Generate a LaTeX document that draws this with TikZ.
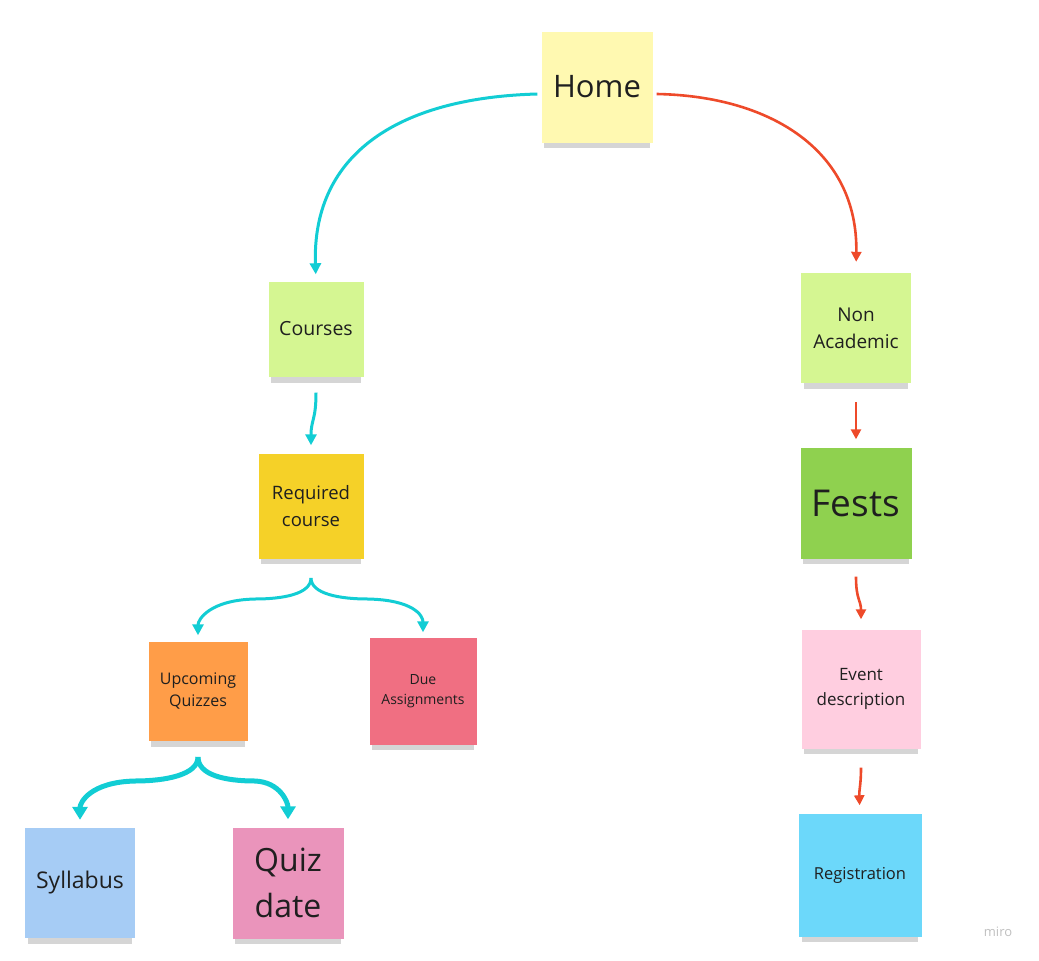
\documentclass[tikz,border=0pt]{standalone}
\usepackage{fontspec}
\setmainfont{Open Sans}
\usetikzlibrary{arrows.meta,shadows}
\definecolor{cyanline}{HTML}{12CDD4}
\definecolor{redline}{HTML}{EE4A2A}
\definecolor{homeyellow}{HTML}{FFF9B1}
\definecolor{lightgreen}{HTML}{D5F692}
\definecolor{darkyellow}{HTML}{F5D128}
\definecolor{orangenote}{HTML}{FF9D48}
\definecolor{rednote}{HTML}{F06F82}
\definecolor{bluenote}{HTML}{A6CCF5}
\definecolor{pinknote}{HTML}{EA94BB}
\definecolor{greennote}{HTML}{8FD14F}
\definecolor{lightpink}{HTML}{FFCEE0}
\definecolor{cyannote}{HTML}{6CD8FA}
\newcommand{\fs}[1]{\fontsize{#1}{1.42\dimexpr#1pt\relax}\selectfont}
\begin{document}
\begin{tikzpicture}[x=1pt,y=-1pt,
  note/.style={minimum width=#1, minimum height=#1, inner sep=0pt, align=center,
    text=black!88, drop shadow={shadow xshift=0pt, shadow yshift=-9pt, opacity=0.33,
      shadow scale=0.95}},
  cyanarrow/.style={draw=cyanline, line width=3pt, -{Triangle[length=11pt,width=11pt]}},
  thickarrow/.style={draw=cyanline, line width=5pt, -{Triangle[length=13pt,width=15pt]}},
  redarrow/.style={draw=redline, line width=2.6pt, -{Triangle[length=10pt,width=10pt]}}]
\useasboundingbox (0,0) rectangle (1039,961);

% sticky notes
\node[note=111pt, fill=homeyellow, font=\fs{31}] (home) at (597,87) {Home};
\node[note=95pt, fill=lightgreen, font=\fs{19.5}] (courses) at (316,329) {Courses};
\node[note=105pt, fill=darkyellow, font=\fs{18.5}] (required) at (311,506) {Required\\course};
\node[note=99pt, fill=orangenote, font=\fs{16}] (upcoming) at (198,691) {Upcoming\\Quizzes};
\node[note=107pt, fill=rednote, font=\fs{14}] (due) at (423,691) {Due\\Assignments};
\node[note=110pt, fill=bluenote, font=\fs{23}] (syllabus) at (80,883) {Syllabus};
\node[note=111pt, fill=pinknote, font=\fs{32}] (quiz) at (288,883) {Quiz\\date};
\node[note=110pt, fill=lightgreen, font=\fs{19}] (nonacad) at (856,328) {Non\\Academic};
\node[note=111pt, fill=greennote, font=\fs{37}] (fests) at (856,503) {Fests};
\node[note=119pt, fill=lightpink, font=\fs{17}] (event) at (861,689) {Event\\description};
\node[note=123pt, fill=cyannote, font=\fs{16.5}] (registration) at (860,875) {Registration};
\node[text=black!25, font=\fs{13}] (miro) at (998,932) {miro};

% left branch
\draw[cyanarrow, shorten >=7pt] ([yshift=-7pt,xshift=-4pt]home.west)
  .. controls (390,98) and (312,160) .. (courses.north);
\draw[cyanarrow, shorten <=16pt, shorten >=8pt] (courses.south)
  .. controls (316,420) and (311,420) .. (required.north);

\coordinate (reqfork) at (311,578);
\coordinate (reqleft) at (255,599);
\coordinate (reqright) at (368,599);
\draw[cyanarrow, shorten >=6pt] (reqfork) .. controls +(0,16) and +(28,0) .. (reqleft)
  .. controls +(-45,1) and +(0,-22) .. (upcoming.north);
\draw[cyanarrow, shorten >=5pt] (reqfork) .. controls +(0,16) and +(-28,0) .. (reqright)
  .. controls +(45,1) and +(0,-22) .. (due.north);

\coordinate (quizfork) at (198,757);
\coordinate (quizleft) at (135,781);
\coordinate (quizright) at (255,781);
\draw[thickarrow, shorten >=8pt] (quizfork) .. controls +(0,18) and +(30,0) .. (quizleft)
  .. controls +(-45,1) and +(0,-25) .. (syllabus.north);
\draw[thickarrow, shorten >=8pt] (quizfork) .. controls +(0,18) and +(-30,0) .. (quizright)
  .. controls +(25,1) and +(0,-25) .. (quiz.north);

% right branch
\draw[redarrow, shorten >=11pt] ([yshift=-7pt,xshift=4pt]home.east)
  .. controls (770,96) and (858,150) .. (nonacad.north);
\draw[redarrow, shorten <=19pt, shorten >=8pt] (nonacad.south) -- (fests.north);
\draw[redarrow, shorten <=18pt, shorten >=10pt] (fests.south)
  .. controls (856,600) and (861,600) .. (event.north);
\draw[redarrow, shorten <=19pt, shorten >=8pt] (event.south)
  .. controls (861,785) and (859,790) .. (registration.north);
\end{tikzpicture}
\end{document}
